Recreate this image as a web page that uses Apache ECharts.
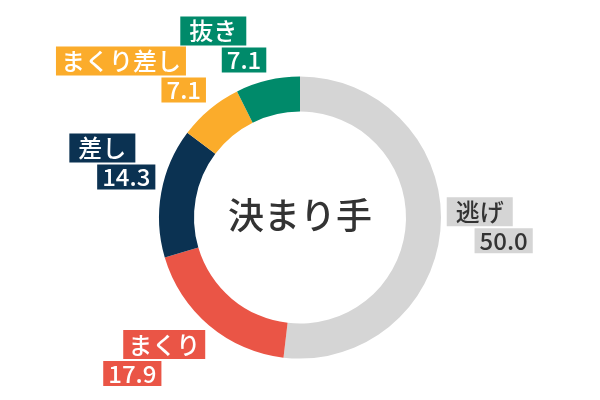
<!DOCTYPE html>
<html>
<head>
<meta charset="utf-8">
<script src="https://cdn.jsdelivr.net/npm/echarts@6/dist/echarts.min.js"></script>
<style>
html,body{margin:0;padding:0;background:#fff;}
#main{width:600px;height:400px;}
</style>
</head>
<body>
<div id="main"></div>
<script>
const categories = ['逃げ', 'まくり', '差し', 'まくり差し', '抜き'];
const values = [50.0, 17.9, 14.3, 7.1, 7.1];
const sliceColors = ['#d5d5d5', '#ea5546', '#0b3252', '#fbac2b', '#008a6a'];
const labelTextColors = ['#333333', '#ffffff', '#ffffff', '#ffffff', '#ffffff'];
const centerTitle = '決まり手';

const FONT = '"Noto Sans CJK JP", "Noto Sans", sans-serif';
const CENTER = ['50%', '54.4%'];
const INNER_R = 106, OUTER_R = 141, LABEL_R = 147;
const NAME_SIZE = 24, VALUE_SIZE = 24;

const total = values.reduce((a, b) => a + b, 0);
function midAngle(i) {
  let before = 0;
  for (let k = 0; k < i; k++) before += values[k];
  return (before + values[i] / 2) / total * 2 * Math.PI;
}

const chart = echarts.init(document.getElementById('main'), null, {renderer: 'canvas'});

const data = categories.map((name, i) => {
  const padX = Math.max(5, (66 - NAME_SIZE * name.length) / 2);
  const rich = {
    n: {fontFamily: FONT, fontSize: NAME_SIZE, fontWeight: 500, height: 29, lineHeight: 29, padding: [0, padX], color: labelTextColors[i], backgroundColor: sliceColors[i], align: 'left'},
    g: {width: 20, height: 29, lineHeight: 29, align: 'left'},
    v: {fontFamily: FONT, fontSize: VALUE_SIZE, fontWeight: 500, height: 25, lineHeight: 25, padding: [0, 5], color: labelTextColors[i], backgroundColor: sliceColors[i]},
    z: {width: 0, height: 29, lineHeight: 29}
  };
  const a = midAngle(i);
  const sx = Math.sin(a), sy = -Math.cos(a);
  const mirrored = sx < 0 && sy > 0.3;
  rich.v.align = mirrored ? 'left' : 'right';
  rich.z.align = mirrored ? 'left' : 'right';
  return {
    name: name,
    value: values[i],
    itemStyle: {color: sliceColors[i]},
    label: {
      rich: rich,
      formatter: mirrored
        ? '{g|}{n|' + name + '}\n{v|' + values[i].toFixed(1) + '}{z|}'
        : '{n|' + name + '}{g|}\n{v|' + values[i].toFixed(1) + '}{z|}'
    }
  };
});

chart.setOption({
  animation: false,
  title: {
    text: centerTitle,
    left: 'center',
    top: 192,
    textStyle: {fontFamily: FONT, fontSize: 36, fontWeight: 500, color: '#333333'}
  },
  series: [{
    type: 'pie',
    center: CENTER,
    radius: [INNER_R, OUTER_R],
    startAngle: 90,
    clockwise: true,
    avoidLabelOverlap: false,
    silent: true,
    label: {show: true, position: 'outside'},
    labelLine: {show: false},
    labelLayout: function (params) {
      const i = params.dataIndex;
      const a = midAngle(i);
      const sx = Math.sin(a), sy = -Math.cos(a);
      const cx = chart.getWidth() * parseFloat(CENTER[0]) / 100;
      const cy = chart.getHeight() * parseFloat(CENTER[1]) / 100;
      return {
        x: cx + LABEL_R * sx,
        y: cy + LABEL_R * sy,
        align: sx < 0 ? 'right' : 'left',
        verticalAlign: sy < -0.1 ? 'bottom' : (sy > 0.3 ? 'top' : 'middle')
      };
    },
    data: data
  }]
});
</script>
</body>
</html>
